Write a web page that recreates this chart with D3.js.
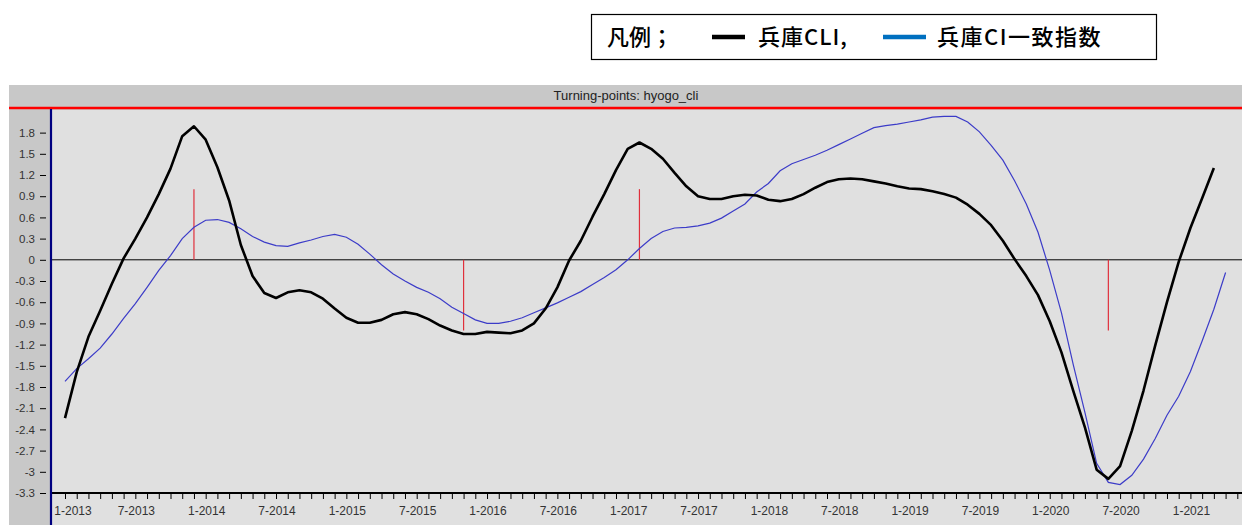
<!DOCTYPE html>
<html>
<head>
<meta charset="utf-8">
<script src="https://cdn.jsdelivr.net/npm/d3@7"></script>
<style>
  body { margin: 0; background: #fff; }
  text { font-family: "Liberation Sans", Arial, sans-serif; }
  .legend text { font-family: "Noto Sans CJK JP", sans-serif; font-weight: 500; }
</style>
</head>
<body>
<div id="chart"></div>
<script>
// month index 0 = 1-2013
const cliValues = [
  -2.24, -1.59, -1.09, -0.72, -0.34, 0.02, 0.30, 0.60, 0.93, 1.29,
  1.75, 1.89, 1.70, 1.31, 0.84, 0.21, -0.23, -0.47, -0.54, -0.46,
  -0.43, -0.46, -0.55, -0.69, -0.82, -0.89, -0.89, -0.85, -0.77, -0.74,
  -0.77, -0.84, -0.93, -1.00, -1.05, -1.05, -1.02, -1.03, -1.04, -1.00,
  -0.90, -0.69, -0.39, -0.01, 0.27, 0.61, 0.93, 1.27, 1.57, 1.66,
  1.57, 1.43, 1.23, 1.04, 0.90, 0.86, 0.86, 0.90, 0.92, 0.91,
  0.85, 0.83, 0.86, 0.93, 1.02, 1.10, 1.14, 1.15, 1.14, 1.11,
  1.08, 1.04, 1.01, 1.00, 0.97, 0.93, 0.88, 0.78, 0.65, 0.49,
  0.27, 0.01, -0.23, -0.50, -0.87, -1.31, -1.85, -2.37, -2.97, -3.10,
  -2.92, -2.42, -1.85, -1.21, -0.60, -0.03, 0.45, 0.87, 1.30
];

const ciValues = [
  -1.72, -1.54, -1.40, -1.25, -1.05, -0.83, -0.62, -0.39, -0.15, 0.06,
  0.30, 0.46, 0.56, 0.57, 0.53, 0.44, 0.33, 0.25, 0.20, 0.19,
  0.24, 0.28, 0.33, 0.36, 0.32, 0.22, 0.08, -0.07, -0.20, -0.30,
  -0.39, -0.46, -0.55, -0.67, -0.76, -0.85, -0.90, -0.90, -0.87, -0.82,
  -0.75, -0.68, -0.61, -0.53, -0.45, -0.35, -0.25, -0.14, 0.00, 0.16,
  0.30, 0.40, 0.45, 0.46, 0.48, 0.52, 0.59, 0.69, 0.79, 0.96,
  1.08, 1.26, 1.36, 1.42, 1.48, 1.55, 1.63, 1.71, 1.79, 1.87,
  1.90, 1.92, 1.95, 1.98, 2.02, 2.03, 2.03, 1.95, 1.81, 1.62,
  1.41, 1.12, 0.79, 0.39, -0.15, -0.75, -1.48, -2.16, -2.88, -3.15,
  -3.18, -3.05, -2.82, -2.53, -2.20, -1.93, -1.58, -1.15, -0.70, -0.18
];

const xTickLabels = ["1-2013", "7-2013", "1-2014", "7-2014", "1-2015", "7-2015",
  "1-2016", "7-2016", "1-2017", "7-2017", "1-2018", "7-2018", "1-2019",
  "7-2019", "1-2020", "7-2020", "1-2021"];

const yTicks = [1.8, 1.5, 1.2, 0.9, 0.6, 0.3, 0, -0.3, -0.6, -0.9, -1.2, -1.5,
  -1.8, -2.1, -2.4, -2.7, -3, -3.3];

// turning points: month index and direction (1 = peak, -1 = trough)
const turnMonths = [11, 34, 49, 89];
const turnSigns = [1, -1, 1, -1];

const width = 1242;
const height = 525;

const svg = d3.select("#chart").append("svg")
  .attr("width", width)
  .attr("height", height);

let x = d3.scaleLinear()
  .domain([0, 100.4])
  .range([65, 1242]);

let y = d3.scaleLinear()
  .domain([-3.3, 2.12])
  .range([493, 110]);

// panel
svg.append("rect").attr("x", 9).attr("y", 85).attr("width", 1233).attr("height", 440).attr("fill", "#c8c8c8");
svg.append("rect").attr("x", 52).attr("y", 110).attr("width", 1190).attr("height", 415).attr("fill", "#e0e0e0");
svg.append("line").attr("x1", 9).attr("x2", 1242).attr("y1", 108).attr("y2", 108)
  .attr("stroke", "#ff0000").attr("stroke-width", 2.5);

svg.append("text")
  .attr("x", 626).attr("y", 100)
  .attr("text-anchor", "middle")
  .attr("font-size", "13px")
  .attr("fill", "#222")
  .text("Turning-points: hyogo_cli");

// zero line
svg.append("line")
  .attr("x1", 52).attr("x2", 1242)
  .attr("y1", y(0)).attr("y2", y(0))
  .attr("stroke", "#000").attr("stroke-width", 1);

// turning point markers
svg.selectAll(".turn")
  .data(turnMonths)
  .enter().append("line")
  .attr("class", "turn")
  .attr("x1", d => x(d)).attr("x2", d => x(d))
  .attr("y1", y(0))
  .attr("y2", (d, i) => y(turnSigns[i] * 1.0))
  .attr("stroke", "#e0303c").attr("stroke-width", 1.2);

// series
let line = d3.line()
  .x((d, i) => x(i))
  .y(d => y(d));

svg.append("path")
  .datum(ciValues)
  .attr("d", line)
  .attr("fill", "none")
  .attr("stroke", "#3c3cc8")
  .attr("stroke-width", 1.2);

svg.append("path")
  .datum(cliValues)
  .attr("d", line)
  .attr("fill", "none")
  .attr("stroke", "#000")
  .attr("stroke-width", 2.6)
  .attr("stroke-linejoin", "round");

// x axis: monthly ticks and half-year labels
let xMinor = d3.axisBottom(x)
  .tickValues(d3.range(0, 101))
  .tickSize(5)
  .tickFormat("");

let gx = svg.append("g")
  .attr("transform", "translate(0,494)")
  .call(xMinor);
gx.select(".domain").remove();
gx.selectAll(".tick line").attr("stroke", "#000");

svg.append("line")
  .attr("x1", 52).attr("x2", 1242)
  .attr("y1", 493).attr("y2", 493)
  .attr("stroke", "#000").attr("stroke-width", 2.2);

svg.selectAll(".xlab")
  .data(xTickLabels)
  .enter().append("text")
  .attr("class", "xlab")
  .attr("x", (d, i) => i === 0 ? x(0) + 8 : x(i * 6) + 1)
  .attr("y", 515)
  .attr("text-anchor", "middle")
  .attr("font-size", "12px")
  .attr("fill", "#333")
  .text(d => d);

// y axis
let yAxis = d3.axisLeft(y)
  .tickValues(yTicks)
  .tickSize(6)
  .tickPadding(5)
  .tickFormat(d => String(d));

let gy = svg.append("g")
  .attr("transform", "translate(46,0)")
  .call(yAxis);
gy.select(".domain").remove();
gy.selectAll(".tick line").attr("stroke", "#000");
gy.selectAll(".tick text")
  .attr("font-size", "11.5px")
  .attr("fill", "#333")
  .attr("font-family", "Liberation Sans, Arial, sans-serif");

svg.append("line")
  .attr("x1", 51).attr("x2", 51)
  .attr("y1", 109).attr("y2", 525)
  .attr("stroke", "#000080").attr("stroke-width", 2.2);

// legend
let lg = svg.append("g").attr("class", "legend");
lg.append("rect")
  .attr("x", 591.5).attr("y", 14.5)
  .attr("width", 565).attr("height", 45)
  .attr("fill", "#fff").attr("stroke", "#000").attr("stroke-width", 1.2);
lg.append("text").attr("x", 607).attr("y", 45).attr("font-size", "22px").attr("fill", "#000").text("凡例；");
lg.append("line").attr("x1", 712).attr("x2", 745).attr("y1", 37).attr("y2", 37)
  .attr("stroke", "#000").attr("stroke-width", 4.5);
lg.append("text").attr("x", 758).attr("y", 45).attr("font-size", "22px").attr("fill", "#000")
  .attr("letter-spacing", "1px").text("兵庫CLI,");
lg.append("line").attr("x1", 883).attr("x2", 926).attr("y1", 37).attr("y2", 37)
  .attr("stroke", "#0070c0").attr("stroke-width", 4.5);
lg.append("text").attr("x", 937).attr("y", 45).attr("font-size", "22px").attr("fill", "#000")
  .attr("letter-spacing", "1.5px").text("兵庫CI一致指数");
</script>
</body>
</html>
